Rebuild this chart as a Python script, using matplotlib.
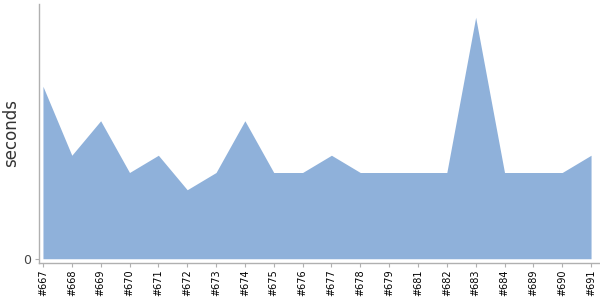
import numpy as np
import matplotlib
matplotlib.use("Agg")
import matplotlib.pyplot as plt

# build numbers and durations (seconds)
builds = ["#667", "#668", "#669", "#670", "#671", "#672", "#673", "#674",
          "#675", "#676", "#677", "#678", "#679", "#681", "#682", "#683",
          "#684", "#689", "#690", "#691"]
durations = [10, 6, 8, 5, 6, 4, 5, 8, 5, 5, 6, 5, 5, 5, 5, 14, 5, 5, 5, 6]

AREA_COLOR = "#8fb1da"
AXIS_COLOR = "#b0b0b0"

fig = plt.figure(figsize=(6, 3), dpi=100)
# axes box in pixels: x 39.5..600, y 4..262.7 (from top)
ax = fig.add_axes([39.5 / 600, (300 - 262.7) / 300, (600 - 39.5) / 600, (262.7 - 4) / 300])

x = np.arange(len(builds))
ax.fill_between(x, durations, 0, color=AREA_COLOR, linewidth=0)

ax.set_xlim(-0.12, len(builds) - 1 + 0.31)
ax.set_ylim(-0.23, 14.77)

ax.set_xticks(x)
ax.set_xticklabels(builds, rotation=90, fontsize=7, color="black")
ax.set_yticks([0])
ax.set_yticklabels(["0"], fontsize=9, color="#444444")
ax.tick_params(axis="x", length=3, color=AXIS_COLOR, pad=2)
ax.tick_params(axis="y", length=3, color=AXIS_COLOR, pad=3)

for s in ["top", "right"]:
    ax.spines[s].set_visible(False)
for s in ["left", "bottom"]:
    ax.spines[s].set_color(AXIS_COLOR)
    ax.spines[s].set_linewidth(1)

ax.set_ylabel("seconds", fontsize=12, color="#333333", labelpad=2)

fig.savefig("out.png", dpi=100)
